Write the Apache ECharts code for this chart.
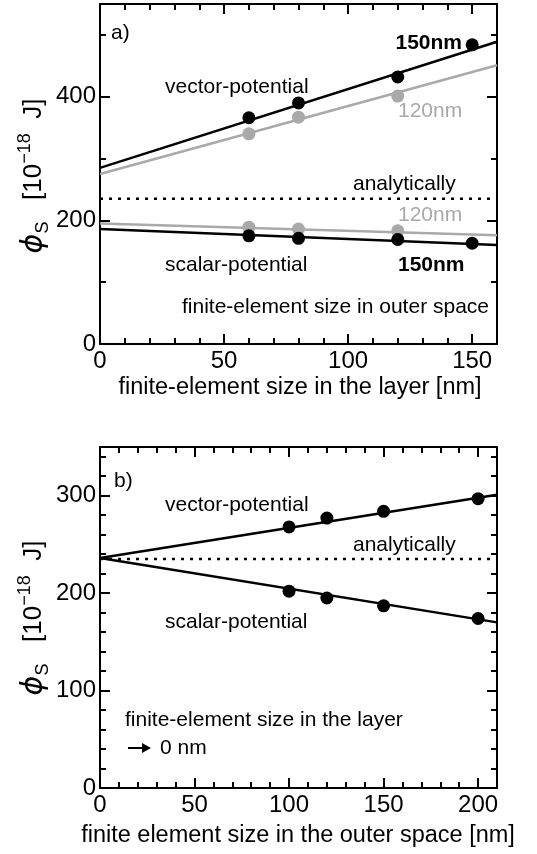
<!DOCTYPE html>
<html>
<head>
<meta charset="utf-8">
<script src="https://cdn.jsdelivr.net/npm/echarts@6/dist/echarts.min.js"></script>
<style>
  html, body { margin: 0; padding: 0; background: #fff; }
  #chart { width: 537px; height: 854px; }
</style>
</head>
<body>
<div id="chart"></div>
<script>
// ---- panel a) : energy vs finite-element size in the layer ----
var layerX150 = [60, 80, 120, 150];
var layerX120 = [60, 80, 120];
var vecA150 = [366, 390, 432, 484];
var vecA120 = [340, 367, 401];
var scaA150 = [175, 171, 169, 163];
var scaA120 = [189, 186, 183];
// fitted lines, value at x = 0 and x = 160
var fitX_A = [0, 160];
var vecA150Fit = [285, 489];
var vecA120Fit = [275, 451];
var scaA150Fit = [186, 160];
var scaA120Fit = [195, 176];

// ---- panel b) : energy vs finite-element size in the outer space ----
var outerX = [100, 120, 150, 200];
var vecB = [268, 277, 284, 297];
var scaB = [202, 195, 187, 174];
var fitX_B = [0, 210];
var vecBFit = [236, 301];
var scaBFit = [236, 170];

var analytic = 235;

var FONT = "'Liberation Sans', Arial, Helvetica, sans-serif";
var GRAY = '#a9a9a9';

function zip(xs, ys) {
    var out = [];
    for (var i = 0; i < xs.length; i++) out.push([xs[i], ys[i]]);
    return out;
}

// one axis of the frame; ticks point inwards
function axis(grid, pos, max, interval, tickLen, showLabel, showLine) {
    return {
        type: 'value', gridIndex: grid, position: pos,
        min: 0, max: max, interval: interval,
        axisLine: { show: showLine, onZero: false, lineStyle: { color: '#000', width: 2 } },
        axisTick: { show: true, inside: true, length: tickLen, lineStyle: { color: '#000', width: 2 } },
        axisLabel: {
            show: showLabel, showMaxLabel: false, color: '#000',
            fontSize: 24, fontFamily: FONT, margin: pos == 'left' ? 4 : 5
        },
        splitLine: { show: false }
    };
}

var xAxes = [
    axis(0, 'bottom', 160, 50, 10, true, true),
    axis(0, 'bottom', 160, 10, 6, false, false),
    axis(0, 'top', 160, 50, 10, false, true),
    axis(0, 'top', 160, 10, 6, false, false),
    axis(1, 'bottom', 210, 50, 10, true, true),
    axis(1, 'bottom', 210, 10, 6, false, false),
    axis(1, 'top', 210, 50, 10, false, true),
    axis(1, 'top', 210, 10, 6, false, false)
];
var yAxes = [
    axis(0, 'left', 550, 200, 10, true, true),
    axis(0, 'left', 550, 100, 6, false, false),
    axis(0, 'right', 550, 200, 10, false, true),
    axis(0, 'right', 550, 100, 6, false, false),
    axis(1, 'left', 350, 100, 10, true, true),
    axis(1, 'left', 350, 20, 6, false, false),
    axis(1, 'right', 350, 100, 10, false, true),
    axis(1, 'right', 350, 20, 6, false, false)
];

function fitLine(xi, yi, xs, ys, color) {
    return {
        type: 'line', xAxisIndex: xi, yAxisIndex: yi, data: zip(xs, ys),
        symbol: 'none', silent: true,
        lineStyle: { color: color, width: 2.5 }
    };
}
function dots(xi, yi, xs, ys, color) {
    return {
        type: 'scatter', xAxisIndex: xi, yAxisIndex: yi, data: zip(xs, ys),
        symbol: 'circle', symbolSize: 13, itemStyle: { color: color, opacity: 1 }, z: 5
    };
}
function dotted(xi, yi, xs) {
    return {
        type: 'line', xAxisIndex: xi, yAxisIndex: yi,
        data: zip(xs, [analytic, analytic]), symbol: 'none',
        lineStyle: { color: '#000', width: 2.5, type: [3, 6] }
    };
}

function txt(x, y, s, opt) {
    opt = opt || {};
    return {
        type: 'text', x: x, y: y, z: 10,
        style: {
            text: s, fill: opt.color || '#000',
            fontSize: opt.size || 21, fontFamily: FONT, fontWeight: opt.bold ? 'bold' : 'normal',
            align: opt.align || 'left', textAlign: opt.align || 'left',
            verticalAlign: 'middle', textVerticalAlign: 'middle'
        }
    };
}

function yTitle(x, y) {
    return {
        type: 'text', x: x, y: y, rotation: Math.PI / 2, z: 10,
        style: {
            text: '{phi|\u03d5}{sub|S}{n|   [10}{sup|\u221218}{n|  J]}',
            fill: '#000', fontFamily: FONT,
            align: 'center', textAlign: 'center',
            verticalAlign: 'middle', textVerticalAlign: 'middle',
            rich: {
                phi: { fontSize: 30, fontFamily: 'DejaVu Sans', fontStyle: 'italic', lineHeight: 36, verticalAlign: 'middle' },
                sub: { fontSize: 18, fontFamily: FONT, lineHeight: 36, verticalAlign: 'bottom' },
                n: { fontSize: 26, fontFamily: FONT, lineHeight: 36, verticalAlign: 'middle' },
                sup: { fontSize: 18, fontFamily: FONT, lineHeight: 36, verticalAlign: 'top' }
            }
        }
    };
}

var chart = echarts.init(document.getElementById('chart'));
chart.setOption({
    animation: false,
    backgroundColor: '#fff',
    grid: [
        { left: 100, top: 4, width: 397, height: 340, outerBoundsMode: 'none' },
        { left: 100, top: 447, width: 397, height: 341, outerBoundsMode: 'none' }
    ],
    xAxis: xAxes,
    yAxis: yAxes,
    series: [
        dotted(0, 0, fitX_A),
        fitLine(0, 0, fitX_A, vecA120Fit, GRAY),
        fitLine(0, 0, fitX_A, vecA150Fit, '#000'),
        fitLine(0, 0, fitX_A, scaA120Fit, GRAY),
        fitLine(0, 0, fitX_A, scaA150Fit, '#000'),
        dots(0, 0, layerX120, vecA120, GRAY),
        dots(0, 0, layerX150, vecA150, '#000'),
        dots(0, 0, layerX120, scaA120, GRAY),
        dots(0, 0, layerX150, scaA150, '#000'),
        dotted(4, 4, fitX_B),
        fitLine(4, 4, fitX_B, vecBFit, '#000'),
        fitLine(4, 4, fitX_B, scaBFit, '#000'),
        dots(4, 4, outerX, vecB, '#000'),
        dots(4, 4, outerX, scaB, '#000')
    ],
    graphic: [
        // panel a
        txt(111, 33, 'a)'),
        txt(165, 87, 'vector-potential'),
        txt(462, 43, '150nm', { bold: true, align: 'right' }),
        txt(398, 111, '120nm', { color: GRAY }),
        txt(353, 184, 'analytically'),
        txt(398, 215, '120nm', { color: GRAY }),
        txt(165, 265, 'scalar-potential'),
        txt(398, 265, '150nm', { bold: true }),
        txt(182, 307, 'finite-element size in outer space'),
        txt(300, 388, 'finite-element size in the layer [nm]', { size: 23.5, align: 'center' }),
        yTitle(34, 176),
        // panel b
        txt(114, 481, 'b)'),
        txt(165, 505, 'vector-potential'),
        txt(353, 545, 'analytically'),
        txt(165, 622, 'scalar-potential'),
        txt(125, 720, 'finite-element size in the layer'),
        { type: 'line', shape: { x1: 128, y1: 748, x2: 144, y2: 748 }, style: { stroke: '#000', lineWidth: 2 } },
        { type: 'polygon', shape: { points: [[142, 743], [151, 748], [142, 753]] }, style: { fill: '#000' } },
        txt(160, 748, '0 nm'),
        txt(298, 836, 'finite element size in the outer space [nm]', { size: 23.5, align: 'center' }),
        yTitle(34, 618)
    ]
});
</script>
</body>
</html>
